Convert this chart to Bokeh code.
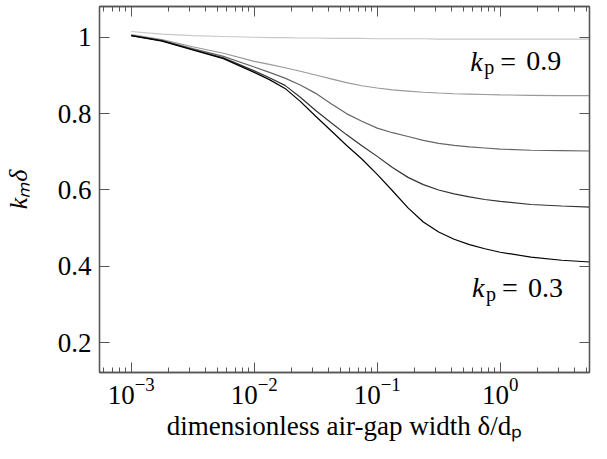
from bokeh.plotting import figure
from bokeh.models import Range1d, FixedTicker, LinearAxis, CustomJSTickFormatter
from bokeh.core.properties import value
from bokeh.embed import file_html
from bokeh.resources import INLINE

# dimensionless air-gap width delta/d_p
delta = [0.001, 0.00178, 0.00316, 0.00562, 0.01, 0.0133, 0.0178, 0.0237,
         0.0316, 0.0422, 0.0562, 0.075, 0.1, 0.133, 0.178, 0.237,
         0.316, 0.422, 0.562, 0.75, 1.0, 1.78, 3.16, 5.62]
# k_m_delta for k_p = 0.9, 0.75, 0.6, 0.45, 0.3
k_090 = [1.015, 1.008, 1.004, 1.002, 1.000, 0.999, 0.999, 0.998,
         0.998, 0.997, 0.997, 0.997, 0.996, 0.996, 0.996, 0.996,
         0.995, 0.995, 0.995, 0.995, 0.995, 0.995, 0.995, 0.995]
k_075 = [1.007, 0.994, 0.975, 0.958, 0.937, 0.929, 0.920, 0.911,
         0.901, 0.891, 0.881, 0.873, 0.867, 0.862, 0.859, 0.856,
         0.854, 0.852, 0.851, 0.850, 0.849, 0.848, 0.847, 0.847]
k_060 = [1.005, 0.992, 0.970, 0.950, 0.922, 0.908, 0.893, 0.875,
         0.853, 0.826, 0.800, 0.780, 0.762, 0.750, 0.740, 0.730,
         0.722, 0.717, 0.713, 0.710, 0.707, 0.704, 0.703, 0.702]
k_045 = [1.004, 0.991, 0.968, 0.946, 0.912, 0.894, 0.874, 0.843,
         0.808, 0.776, 0.745, 0.716, 0.688, 0.659, 0.633, 0.614,
         0.600, 0.590, 0.582, 0.575, 0.570, 0.562, 0.558, 0.555]
k_030 = [1.004, 0.990, 0.967, 0.944, 0.908, 0.889, 0.866, 0.832,
         0.793, 0.755, 0.717, 0.681, 0.641, 0.598, 0.553, 0.516,
         0.490, 0.471, 0.457, 0.446, 0.437, 0.424, 0.416, 0.411]
series = [k_090, k_075, k_060, k_045, k_030]
colors = ["#c8c8c8", "#999999", "#666666", "#333333", "#000000"]

x_major = [1e-3, 1e-2, 1e-1, 1.0]
y_major = [0.2, 0.4, 0.6, 0.8, 1.0]

# curve annotations
ann_x = [0.57, 0.59]
ann_y = [0.937, 0.344]
ann_val = ["0.9", "0.3"]

FONT = "Liberation Serif"
AXC = "#555555"

p = figure(width=591, height=443, x_axis_type="log",
           x_range=Range1d(10 ** -3.258, 10 ** 0.726), y_range=Range1d(0.122, 1.0805),
           output_backend="svg", toolbar_location=None,
           min_border_left=97, min_border_right=2, min_border_top=6, min_border_bottom=66)
p.grid.visible = False
p.outline_line_color = AXC
p.outline_line_width = 1.3
p.background_fill_color = "white"
p.border_fill_color = "white"

minor = [m * 10.0 ** e for e in range(-4, 1) for m in range(2, 10)]
xt = FixedTicker(ticks=x_major, minor_ticks=minor)
yt = FixedTicker(ticks=y_major, minor_ticks=[])
blank = CustomJSTickFormatter(code="return '';")


def style(ax, labels=True):
    ax.axis_line_color = AXC
    ax.axis_line_width = 1.3
    ax.major_tick_in = 10
    ax.major_tick_out = 0
    ax.minor_tick_in = 5
    ax.minor_tick_out = 0
    ax.major_tick_line_color = AXC
    ax.minor_tick_line_color = AXC
    ax.major_tick_line_width = 1
    ax.minor_tick_line_width = 1
    if labels:
        ax.major_label_text_font = FONT
        ax.major_label_text_font_size = "27px"
        ax.major_label_text_color = "black"
    else:
        ax.formatter = blank
        ax.major_label_text_font_size = "2px"
        ax.major_label_standoff = 0


xa = p.xaxis[0]
xa.ticker = xt
style(xa)
xa.major_label_standoff = 5
xa.axis_label = "dimensionless air-gap width δ/dₚ"
xa.axis_label_text_font = FONT
xa.axis_label_text_font_size = "27px"
xa.axis_label_text_font_style = "normal"
xa.axis_label_text_color = "black"
xa.axis_label_standoff = 4

ya = p.yaxis[0]
ya.ticker = yt
style(ya)
ya.minor_tick_in = 0
ya.major_label_standoff = 8
ya.formatter = CustomJSTickFormatter(code="return tick.toString();")
ya.axis_label = "kₘδ"
ya.axis_label_text_font = FONT
ya.axis_label_text_font_size = "26px"
ya.axis_label_text_font_style = "italic"
ya.axis_label_text_color = "black"
ya.axis_label_standoff = 22

top = LinearAxis(ticker=xt)
style(top, labels=False)
p.add_layout(top, "above")
right = LinearAxis(ticker=yt)
style(right, labels=False)
right.minor_tick_in = 0
p.add_layout(right, "right")

for ys, c in zip(series, colors):
    p.line(delta, ys, line_color=c, line_width=1.2)

p.text(x=ann_x, y=ann_y, text=["k", "k"], text_font=value(FONT), text_font_size="28px",
       text_font_style="italic", text_baseline="alphabetic")
p.text(x=ann_x, y=ann_y, text=["p", "p"], text_font=value(FONT), text_font_size="20px",
       x_offset=14, y_offset=6, text_baseline="alphabetic")
p.text(x=ann_x, y=ann_y, text=["=", "="], text_font=value(FONT), text_font_size="28px",
       x_offset=30, text_baseline="alphabetic")
p.text(x=ann_x, y=ann_y, text=ann_val, text_font=value(FONT), text_font_size="28px",
       x_offset=56, text_baseline="alphabetic")

open("out.html", "w").write(file_html(p, INLINE))
